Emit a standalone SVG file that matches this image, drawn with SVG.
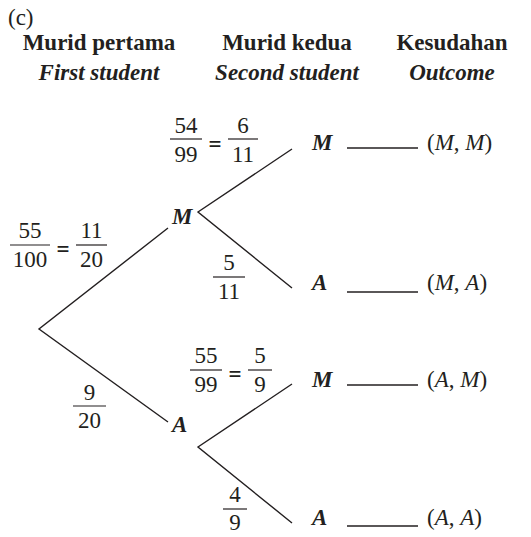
<svg xmlns="http://www.w3.org/2000/svg" width="531" height="537" viewBox="0 0 531 537">
<style>
text{font-family:"Liberation Serif","Times New Roman",serif;font-size:23px;fill:#231f20}
.h{font-weight:bold;text-anchor:middle}
.hi{font-weight:bold;font-style:italic;text-anchor:middle}
.n{text-anchor:middle}
.eq{text-anchor:middle;font-weight:bold}
.v{font-weight:bold;font-style:italic}
.i{font-style:italic}
.bar{stroke:#231f20;stroke-width:1.2}
.edge{stroke:#231f20;stroke-width:1.4;fill:none}
.ul{stroke:#231f20;stroke-width:1.4}
</style>
<rect width="531" height="537" fill="#fff"/>
<g id="headers">
<text x="8" y="25">(c)</text>
<text class="h" x="99" y="50">Murid pertama</text>
<text class="hi" x="99" y="80">First student</text>
<text class="h" x="287" y="50">Murid kedua</text>
<text class="hi" x="287" y="80">Second student</text>
<text class="h" x="452" y="50">Kesudahan</text>
<text class="hi" x="452" y="80">Outcome</text>
</g>
<g id="connectors">
<polyline class="edge" points="168,228 39,329 168,422"/>
<polyline class="edge" points="292,149 198,212 292,288"/>
<polyline class="edge" points="292,384 198,447 292,523"/>
</g>
<g id="node-M1"><text class="v" x="172" y="224">M</text></g>
<g id="node-A1"><text class="v" x="172" y="432">A</text></g>
<g id="prob-first-M">
<text class="n" x="30" y="238">55</text><line class="bar" x1="10" y1="245" x2="50" y2="245"/><text class="n" x="30" y="267">100</text>
<text class="eq" x="63" y="257">=</text>
<text class="n" x="91.5" y="238">11</text><line class="bar" x1="76" y1="245" x2="107" y2="245"/><text class="n" x="91.5" y="267">20</text>
</g>
<g id="prob-first-A">
<text class="n" x="89.5" y="400">9</text><line class="bar" x1="73" y1="406" x2="106" y2="406"/><text class="n" x="89.5" y="428">20</text>
</g>
<g id="prob-MM">
<text class="n" x="186" y="133">54</text><line class="bar" x1="170" y1="139" x2="202" y2="139"/><text class="n" x="186" y="162">99</text>
<text class="eq" x="215" y="152">=</text>
<text class="n" x="243" y="133">6</text><line class="bar" x1="228" y1="139" x2="258" y2="139"/><text class="n" x="243" y="162">11</text>
</g>
<g id="prob-MA">
<text class="n" x="229" y="270">5</text><line class="bar" x1="213" y1="277" x2="245" y2="277"/><text class="n" x="229" y="299">11</text>
</g>
<g id="prob-AM">
<text class="n" x="206" y="363">55</text><line class="bar" x1="190" y1="370" x2="222" y2="370"/><text class="n" x="206" y="392">99</text>
<text class="eq" x="235" y="382">=</text>
<text class="n" x="260" y="363">5</text><line class="bar" x1="248" y1="370" x2="272" y2="370"/><text class="n" x="260" y="392">9</text>
</g>
<g id="prob-AA">
<text class="n" x="235" y="502">4</text><line class="bar" x1="223" y1="509" x2="247" y2="509"/><text class="n" x="235" y="530">9</text>
</g>
<g id="node-MM">
<text class="v" x="312" y="150">M</text><line class="ul" x1="347" y1="148" x2="418" y2="148"/>
<text x="427" y="150">(<tspan class="i">M</tspan>, <tspan class="i">M</tspan>)</text>
</g>
<g id="node-MA">
<text class="v" x="312" y="290">A</text><line class="ul" x1="347" y1="292" x2="418" y2="292"/>
<text x="427" y="290">(<tspan class="i">M</tspan>, <tspan class="i">A</tspan>)</text>
</g>
<g id="node-AM">
<text class="v" x="312" y="387">M</text><line class="ul" x1="347" y1="385" x2="418" y2="385"/>
<text x="427" y="387">(<tspan class="i">A</tspan>, <tspan class="i">M</tspan>)</text>
</g>
<g id="node-AA">
<text class="v" x="312" y="525">A</text><line class="ul" x1="347" y1="526" x2="418" y2="526"/>
<text x="427" y="525">(<tspan class="i">A</tspan>, <tspan class="i">A</tspan>)</text>
</g>
</svg>
